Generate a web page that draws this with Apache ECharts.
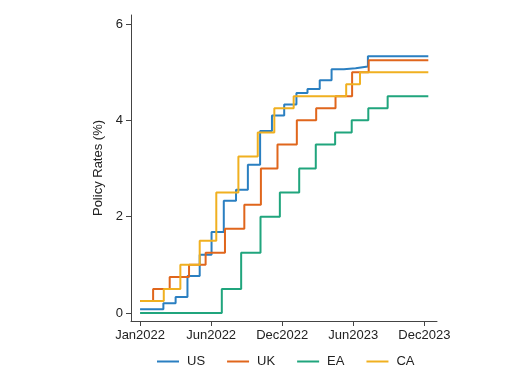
<!DOCTYPE html>
<html>
<head>
<meta charset="utf-8">
<script src="https://cdn.jsdelivr.net/npm/echarts@6/dist/echarts.min.js"></script>
<style>
  html, body { margin: 0; padding: 0; background: #fff; }
  #chart { width: 531px; height: 387px; }
</style>
</head>
<body>
<div id="chart"></div>
<script>
// US: monthly average, one value per month (Jan2022 .. Dec2023)
const usDates = [
  "2022-01-01", "2022-02-01", "2022-03-01", "2022-04-01", "2022-05-01", "2022-06-01",
  "2022-07-01", "2022-08-01", "2022-09-01", "2022-10-01", "2022-11-01", "2022-12-01",
  "2023-01-01", "2023-02-01", "2023-03-01", "2023-04-01", "2023-05-01", "2023-06-01",
  "2023-07-01", "2023-08-01", "2023-09-01", "2023-10-01", "2023-11-01", "2023-12-01"
];
const usRates = [
  0.08, 0.08, 0.20, 0.33, 0.77, 1.21, 1.68, 2.33, 2.56, 3.08, 3.78, 4.10,
  4.33, 4.57, 4.65, 4.83, 5.06, 5.08, 5.12, 5.33, 5.33, 5.33, 5.33, 5.33
];

// UK: rate decision dates
const ukDates = [
  "2022-01-01", "2022-02-03", "2022-03-17", "2022-05-05", "2022-06-16", "2022-08-04",
  "2022-09-22", "2022-11-03", "2022-12-15", "2023-02-02", "2023-03-23", "2023-05-11",
  "2023-06-22", "2023-08-03"
];
const ukRates = [0.25, 0.5, 0.75, 1.0, 1.25, 1.75, 2.25, 3.0, 3.5, 4.0, 4.25, 4.5, 5.0, 5.25];

// EA
const eaDates = [
  "2022-01-01", "2022-07-27", "2022-09-14", "2022-11-02", "2022-12-21", "2023-02-08",
  "2023-03-22", "2023-05-10", "2023-06-21", "2023-08-02", "2023-09-20"
];
const eaRates = [0, 0.5, 1.25, 2.0, 2.5, 3.0, 3.5, 3.75, 4.0, 4.25, 4.5];

// CA
const caDates = [
  "2022-01-01", "2022-03-02", "2022-04-13", "2022-06-01", "2022-07-13", "2022-09-07",
  "2022-10-26", "2022-12-07", "2023-01-25", "2023-06-07", "2023-07-12"
];
const caRates = [0.25, 0.5, 1.0, 1.5, 2.5, 3.25, 3.75, 4.25, 4.5, 4.75, 5.0];

const endDate = "2024-01-01";

// x tick labels (every 180 days from Jan 1 2022)
const xTickDays = [0, 180, 360, 540, 720];
const xTickLabels = ["Jan2022", "Jun2022", "Dec2022", "Jun2023", "Dec2023"];
const yTicks = [0, 2, 4, 6];

const seriesNames = ["US", "UK", "EA", "CA"];
const colors = ["#2a7fc1", "#e0661c", "#20a57d", "#f0b020"];

function dayNum(s) {
  const p = s.split("-").map(Number);
  return (Date.UTC(p[0], p[1] - 1, p[2]) - Date.UTC(2022, 0, 1)) / 86400000;
}

function toPoints(dates, rates) {
  const pts = dates.map((d, i) => [dayNum(d), rates[i]]);
  pts.push([dayNum(endDate), rates[rates.length - 1]]);
  return pts;
}

const allData = [
  toPoints(usDates, usRates),
  toPoints(ukDates, ukRates),
  toPoints(eaDates, eaRates),
  toPoints(caDates, caRates)
];

const chart = echarts.init(document.getElementById("chart"));
const font = "Liberation Sans, Arial, Helvetica, sans-serif";

const option = {
  animation: false,
  color: colors,
  textStyle: { fontFamily: font },
  grid: { left: 131, right: 94, top: 15, bottom: 66 },
  legend: {
    data: seriesNames,
    left: 157,
    top: 355,
    padding: 0,
    icon: "rect",
    itemWidth: 22,
    itemHeight: 2,
    itemGap: 22,
    textStyle: { fontSize: 13, color: "#222", fontFamily: font, padding: [0, 0, 0, 3] }
  },
  xAxis: {
    type: "value",
    min: -23,
    max: 752,
    splitLine: { show: false },
    axisLine: { show: true, onZero: false, lineStyle: { color: "#444", width: 1 } },
    axisTick: { show: true, length: 5, customValues: xTickDays, lineStyle: { color: "#444" } },
    axisLabel: {
      customValues: xTickDays,
      margin: 8,
      fontSize: 13,
      color: "#222",
      formatter: function (v) {
        const i = xTickDays.indexOf(v);
        return i >= 0 ? xTickLabels[i] : "";
      }
    }
  },
  yAxis: {
    type: "value",
    min: -0.166,
    max: 6.187,
    name: "Policy Rates (%)",
    nameLocation: "middle",
    nameGap: 21,
    nameTextStyle: { fontSize: 13, color: "#222" },
    splitLine: { show: false },
    axisLine: { show: true, onZero: false, lineStyle: { color: "#444", width: 1 } },
    axisTick: { show: true, length: 5, customValues: yTicks, lineStyle: { color: "#444" } },
    axisLabel: { customValues: yTicks, margin: 8, fontSize: 13, color: "#222" }
  },
  series: seriesNames.map((name, i) => ({
    name: name,
    type: "line",
    step: "end",
    symbol: "none",
    data: allData[i],
    lineStyle: { width: 2, color: colors[i] }
  }))
};

chart.setOption(option);
</script>
</body>
</html>
